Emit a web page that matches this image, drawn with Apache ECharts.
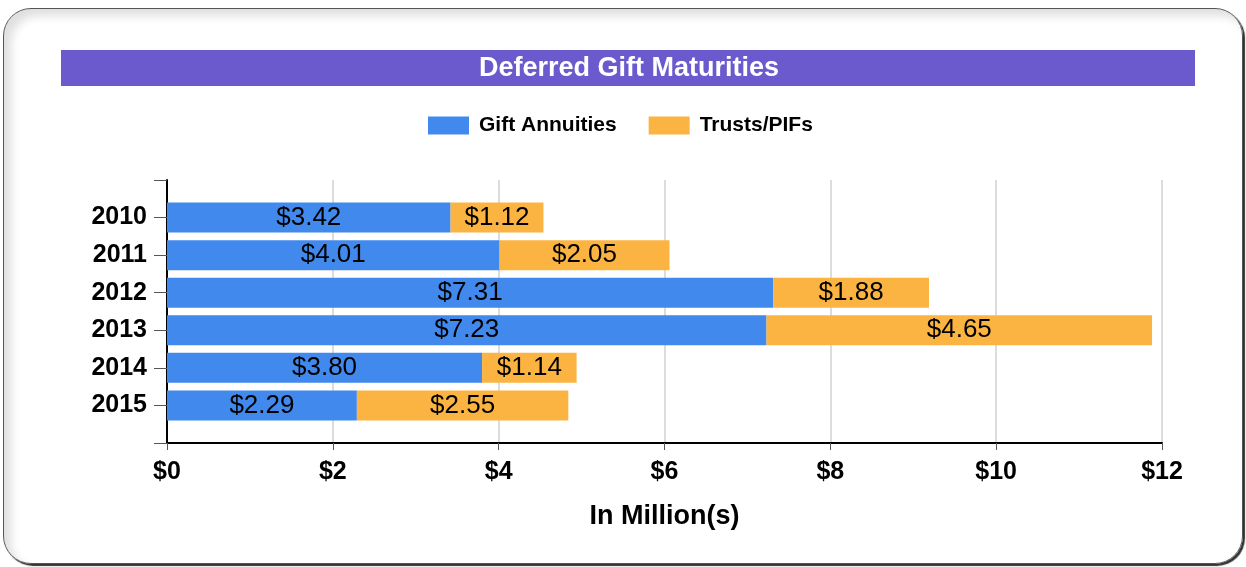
<!DOCTYPE html>
<html lang="en">
<head>
    <meta charset="UTF-8">
    <title>Deferred Gift Maturities</title>
    <script src="https://cdn.jsdelivr.net/npm/echarts@6/dist/echarts.min.js"></script>
    <style>
        html, body { margin: 0; padding: 0; background: #fff; }
        #frame {
            position: absolute; left: 3px; top: 8px; width: 1238px; height: 554px;
            border: 1px solid #555; border-radius: 28px;
            box-shadow: inset 7px 7px 10px rgba(0,0,0,0.13), 2px 2px 1px #333;
        }
        #chartDiv { position: absolute; left: 0; top: 0; width: 1246px; height: 567px; }
    </style>
</head>
<body>
<div id="frame"></div>
<div id="chartDiv"></div>
<script>
    var years = ['2010', '2011', '2012', '2013', '2014', '2015'];
    var giftAnnuities = [3.42, 4.01, 7.31, 7.23, 3.80, 2.29];
    var trustsPifs = [1.12, 2.05, 1.88, 4.65, 1.14, 2.55];
    var xTicks = [0, 2, 4, 6, 8, 10, 12];

    // empty slot at each end so the ticks sit on the labels like the original
    var cats = [''].concat(years, ['']);
    function pad(arr) { return [null].concat(arr, [null]); }

    var font = 'Arial, "Liberation Sans", sans-serif';
    var mychart = echarts.init(document.getElementById('chartDiv'));

    var labelStyle = {
        show: true,
        position: 'inside',
        color: '#000',
        fontSize: 26,
        fontFamily: font,
        formatter: function (p) { return '$' + p.value.toFixed(2); }
    };

    var option = {
        animation: false,
        title: {
            text: 'Deferred Gift Maturities',
            left: 479,
            top: 55,
            padding: 0,
            textStyle: { color: '#fff', fontSize: 27, fontWeight: 'bold', fontFamily: font }
        },
        graphic: [{
            type: 'rect',
            z: -1,
            shape: { x: 61, y: 50, width: 1134, height: 36 },
            style: { fill: '#6A5ACD' }
        }],
        legend: {
            top: 110,
            left: 423,
            itemWidth: 41,
            itemHeight: 18,
            itemGap: 32,
            icon: 'rect',
            textStyle: { color: '#000', fontSize: 21, fontWeight: 'bold', fontFamily: font, padding: [0, 0, 0, 5] },
            data: ['Gift Annuities', 'Trusts/PIFs']
        },
        grid: { left: 167, right: 84, top: 180, bottom: 124, containLabel: false },
        xAxis: {
            type: 'value',
            min: xTicks[0],
            max: xTicks[xTicks.length - 1],
            interval: xTicks[1] - xTicks[0],
            name: 'In Million(s)',
            nameLocation: 'middle',
            nameGap: 60,
            nameTextStyle: { color: '#000', fontSize: 27, fontWeight: 'bold', fontFamily: font },
            axisLine: { show: true, lineStyle: { color: '#000', width: 2 } },
            axisTick: { show: true, length: 7, lineStyle: { color: '#555' } },
            axisLabel: {
                color: '#000', fontSize: 25, fontWeight: 'bold', fontFamily: font, margin: 17,
                formatter: function (v) { return '$' + v; }
            },
            splitLine: { show: true, lineStyle: { color: '#dcdcdc', width: 2 } }
        },
        yAxis: {
            type: 'category',
            inverse: true,
            boundaryGap: false,
            data: cats,
            axisLine: { show: true, lineStyle: { color: '#000', width: 2 } },
            axisTick: { show: true, length: 13, interval: 0, lineStyle: { color: '#555' } },
            axisLabel: { color: '#000', fontSize: 25, fontWeight: 'bold', fontFamily: font, margin: 20, interval: 0 },
            splitLine: { show: false }
        },
        series: [
            {
                name: 'Gift Annuities',
                type: 'bar',
                stack: 'total',
                barWidth: 30,
                itemStyle: { color: '#4189ED' },
                label: labelStyle,
                data: pad(giftAnnuities)
            },
            {
                name: 'Trusts/PIFs',
                type: 'bar',
                stack: 'total',
                barWidth: 30,
                itemStyle: { color: '#FBB441' },
                label: labelStyle,
                data: pad(trustsPifs)
            }
        ]
    };
    mychart.setOption(option);
</script>
</body>
</html>
